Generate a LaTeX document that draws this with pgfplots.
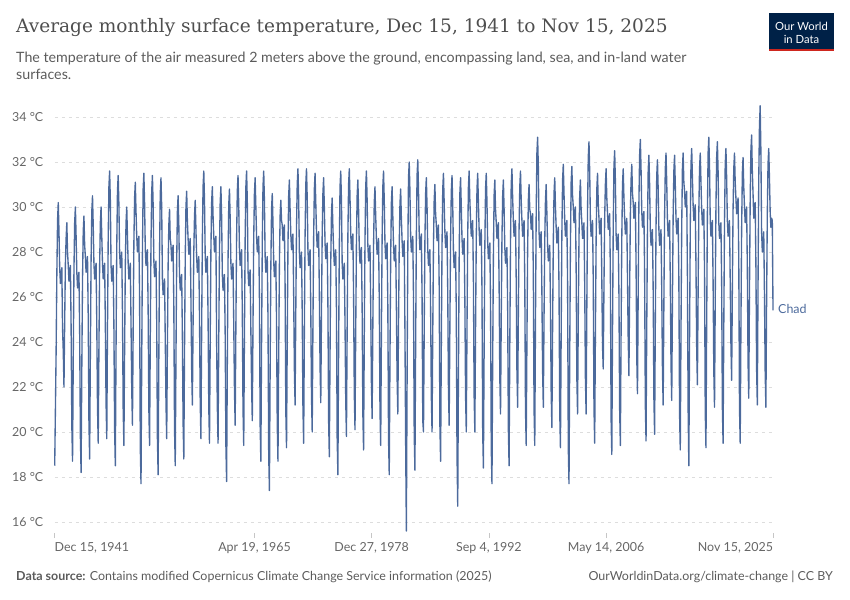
\documentclass[border=0pt]{standalone}
\usepackage{fontspec}
\setmainfont{Lato}
\newfontfamily\titlefont{DejaVu Serif}
\usepackage{pgfplots}
\usepackage{pgfplotstable}
\pgfplotsset{compat=1.18}

\definecolor{owidblue}{HTML}{4C6A9C}
\definecolor{titlegray}{HTML}{4E4E4E}
\definecolor{subgray}{HTML}{5B5B5B}
\definecolor{tickgray}{HTML}{666666}
\definecolor{gridgray}{HTML}{DDDDDD}
\definecolor{owidnavy}{HTML}{002147}
\definecolor{owidred}{HTML}{CE261E}

% Chad, monthly mean surface temperature (deg C), Dec 1941 ... Nov 2025
% one line per calendar year, Jan..Dec
\pgfplotstableread[header=false,row sep=\\]{
18.5\\
21.0\\ 23.6\\ 27.0\\ 29.4\\ 30.2\\ 28.9\\ 27.3\\ 26.6\\ 27.0\\ 27.3\\ 24.6\\ 23.6\\
22.0\\ 24.9\\ 27.5\\ 28.6\\ 29.3\\ 28.0\\ 27.4\\ 26.7\\ 27.1\\ 27.4\\ 24.7\\ 20.3\\
18.7\\ 23.2\\ 27.2\\ 29.3\\ 30.0\\ 28.7\\ 27.1\\ 26.4\\ 26.8\\ 27.1\\ 24.4\\ 19.8\\
18.2\\ 22.8\\ 26.8\\ 28.9\\ 29.6\\ 28.3\\ 27.8\\ 27.1\\ 27.5\\ 27.8\\ 25.1\\ 20.4\\
18.8\\ 23.5\\ 27.6\\ 29.8\\ 30.5\\ 29.2\\ 27.5\\ 26.8\\ 27.2\\ 27.5\\ 24.8\\ 21.1\\
19.5\\ 23.7\\ 27.4\\ 29.3\\ 30.0\\ 28.7\\ 27.5\\ 26.8\\ 27.2\\ 27.5\\ 24.8\\ 21.3\\
19.7\\ 24.5\\ 28.6\\ 30.9\\ 31.6\\ 30.3\\ 27.4\\ 26.7\\ 27.1\\ 27.4\\ 24.7\\ 20.1\\
18.5\\ 23.7\\ 28.2\\ 30.7\\ 31.4\\ 30.1\\ 28.0\\ 27.3\\ 27.7\\ 28.0\\ 25.3\\ 21.0\\
19.4\\ 23.6\\ 27.4\\ 29.3\\ 30.0\\ 28.7\\ 27.5\\ 26.8\\ 27.2\\ 27.5\\ 24.8\\ 21.9\\
20.3\\ 24.6\\ 28.4\\ 30.4\\ 31.1\\ 29.8\\ 28.7\\ 28.0\\ 28.4\\ 28.7\\ 26.0\\ 19.3\\
17.7\\ 23.2\\ 28.1\\ 30.8\\ 31.5\\ 30.2\\ 28.1\\ 27.4\\ 27.8\\ 28.1\\ 25.4\\ 21.0\\
19.4\\ 24.2\\ 28.4\\ 30.7\\ 31.4\\ 30.1\\ 27.6\\ 26.9\\ 27.3\\ 27.6\\ 24.9\\ 19.7\\
18.1\\ 23.4\\ 28.0\\ 30.6\\ 31.3\\ 30.0\\ 26.8\\ 26.1\\ 26.5\\ 26.8\\ 24.1\\ 21.3\\
19.7\\ 23.8\\ 27.4\\ 29.2\\ 29.9\\ 28.6\\ 28.3\\ 27.6\\ 28.0\\ 28.3\\ 25.6\\ 20.1\\
18.5\\ 23.3\\ 27.5\\ 29.8\\ 30.5\\ 29.2\\ 27.0\\ 26.3\\ 26.7\\ 27.0\\ 24.3\\ 20.4\\
18.8\\ 23.6\\ 27.7\\ 30.0\\ 30.7\\ 29.4\\ 28.6\\ 27.9\\ 28.3\\ 28.6\\ 25.9\\ 22.8\\
21.2\\ 24.8\\ 28.0\\ 29.6\\ 30.3\\ 29.0\\ 27.8\\ 27.1\\ 27.5\\ 27.8\\ 25.1\\ 21.3\\
19.7\\ 24.5\\ 28.6\\ 30.9\\ 31.6\\ 30.3\\ 27.8\\ 27.1\\ 27.5\\ 27.8\\ 25.1\\ 21.1\\
19.5\\ 24.1\\ 28.1\\ 30.2\\ 30.9\\ 29.6\\ 28.7\\ 28.0\\ 28.4\\ 28.7\\ 24.0\\ 21.1\\
19.5\\ 24.1\\ 28.1\\ 30.2\\ 30.9\\ 29.6\\ 27.0\\ 26.3\\ 26.7\\ 27.0\\ 24.3\\ 19.4\\
17.8\\ 23.0\\ 27.6\\ 30.1\\ 30.8\\ 29.5\\ 27.5\\ 26.8\\ 27.2\\ 27.5\\ 24.8\\ 21.9\\
20.3\\ 24.7\\ 28.6\\ 30.7\\ 31.4\\ 30.1\\ 28.1\\ 27.4\\ 27.8\\ 28.1\\ 25.4\\ 21.0\\
19.4\\ 24.3\\ 28.6\\ 30.9\\ 31.6\\ 30.3\\ 27.2\\ 26.5\\ 26.9\\ 27.2\\ 24.5\\ 22.1\\
20.5\\ 24.8\\ 28.6\\ 30.6\\ 31.3\\ 30.0\\ 28.7\\ 28.0\\ 28.4\\ 28.7\\ 26.0\\ 20.3\\
18.7\\ 23.9\\ 28.4\\ 30.9\\ 31.6\\ 30.3\\ 27.8\\ 27.1\\ 27.5\\ 27.8\\ 25.1\\ 19.0\\
17.4\\ 22.7\\ 27.3\\ 29.9\\ 30.6\\ 29.3\\ 27.6\\ 26.9\\ 27.3\\ 27.6\\ 24.9\\ 20.3\\
18.7\\ 23.3\\ 27.4\\ 29.6\\ 30.3\\ 29.4\\ 29.2\\ 28.5\\ 28.9\\ 29.2\\ 26.5\\ 20.9\\
19.3\\ 24.1\\ 28.2\\ 30.5\\ 31.2\\ 29.9\\ 28.8\\ 28.1\\ 28.5\\ 28.8\\ 26.1\\ 22.8\\
21.2\\ 25.4\\ 29.1\\ 31.0\\ 31.7\\ 30.4\\ 28.0\\ 27.3\\ 27.7\\ 28.0\\ 25.3\\ 21.1\\
19.5\\ 24.4\\ 28.7\\ 31.0\\ 31.7\\ 30.4\\ 28.1\\ 27.4\\ 27.8\\ 28.1\\ 25.4\\ 21.6\\
20.0\\ 24.6\\ 28.6\\ 30.8\\ 31.5\\ 30.2\\ 28.9\\ 28.2\\ 28.6\\ 28.9\\ 26.2\\ 22.9\\
21.3\\ 25.3\\ 28.8\\ 30.6\\ 31.3\\ 30.0\\ 28.4\\ 27.7\\ 28.1\\ 28.4\\ 25.7\\ 20.5\\
18.9\\ 23.5\\ 27.5\\ 29.7\\ 30.4\\ 29.1\\ 28.1\\ 27.4\\ 27.8\\ 28.1\\ 25.4\\ 19.7\\
18.1\\ 23.5\\ 28.2\\ 30.9\\ 31.6\\ 30.3\\ 27.5\\ 26.8\\ 27.2\\ 27.5\\ 24.8\\ 21.4\\
19.8\\ 24.6\\ 28.7\\ 31.0\\ 31.7\\ 30.4\\ 28.8\\ 28.1\\ 28.5\\ 28.8\\ 26.1\\ 21.7\\
20.1\\ 24.5\\ 28.4\\ 30.5\\ 31.2\\ 29.9\\ 28.2\\ 27.5\\ 27.9\\ 28.2\\ 25.5\\ 20.8\\
19.2\\ 24.2\\ 28.5\\ 30.9\\ 31.6\\ 30.3\\ 28.3\\ 27.6\\ 28.0\\ 28.3\\ 25.6\\ 22.2\\
20.6\\ 24.7\\ 28.3\\ 30.2\\ 30.9\\ 29.6\\ 28.6\\ 27.9\\ 28.3\\ 28.6\\ 25.9\\ 21.0\\
19.4\\ 24.3\\ 28.6\\ 30.9\\ 31.6\\ 30.3\\ 28.4\\ 27.7\\ 28.1\\ 28.4\\ 25.7\\ 19.7\\
18.1\\ 23.2\\ 27.7\\ 30.2\\ 30.9\\ 29.6\\ 28.3\\ 27.6\\ 28.0\\ 28.3\\ 25.6\\ 22.4\\
20.8\\ 24.8\\ 28.3\\ 30.1\\ 30.8\\ 29.5\\ 28.5\\ 27.8\\ 28.2\\ 28.5\\ 24.5\\ 19.5\\
15.6\\ 22.2\\ 27.9\\ 31.3\\ 32.0\\ 30.7\\ 28.7\\ 28.0\\ 28.4\\ 28.7\\ 26.0\\ 19.9\\
18.3\\ 23.8\\ 28.7\\ 31.4\\ 32.1\\ 30.8\\ 28.8\\ 28.1\\ 28.5\\ 28.8\\ 26.1\\ 20.5\\
20.0\\ 24.5\\ 28.5\\ 30.6\\ 31.3\\ 30.0\\ 28.1\\ 27.4\\ 27.8\\ 28.1\\ 25.4\\ 21.6\\
20.0\\ 24.4\\ 28.3\\ 30.3\\ 31.0\\ 29.7\\ 29.2\\ 28.5\\ 28.9\\ 29.2\\ 26.5\\ 20.3\\
18.7\\ 23.8\\ 28.3\\ 30.8\\ 31.5\\ 30.2\\ 28.9\\ 28.2\\ 28.6\\ 28.9\\ 26.2\\ 21.9\\
20.3\\ 24.7\\ 28.6\\ 30.7\\ 31.4\\ 30.1\\ 28.0\\ 27.3\\ 27.7\\ 28.0\\ 25.3\\ 19.0\\
16.7\\ 22.5\\ 27.7\\ 30.6\\ 31.3\\ 30.0\\ 28.6\\ 27.9\\ 28.3\\ 28.6\\ 25.9\\ 21.6\\
20.0\\ 24.6\\ 28.7\\ 30.9\\ 31.6\\ 30.3\\ 29.4\\ 28.7\\ 29.1\\ 29.4\\ 26.7\\ 21.6\\
20.0\\ 24.6\\ 28.6\\ 30.8\\ 31.5\\ 30.2\\ 29.0\\ 28.3\\ 28.7\\ 29.0\\ 26.3\\ 20.0\\
18.4\\ 23.6\\ 28.2\\ 30.8\\ 31.5\\ 30.2\\ 28.4\\ 27.7\\ 28.1\\ 28.4\\ 25.7\\ 19.3\\
17.7\\ 23.1\\ 27.8\\ 30.5\\ 31.2\\ 29.9\\ 29.3\\ 28.6\\ 29.0\\ 29.3\\ 26.6\\ 22.4\\
20.8\\ 25.0\\ 28.6\\ 30.5\\ 31.2\\ 29.9\\ 28.2\\ 27.5\\ 27.9\\ 28.2\\ 25.5\\ 20.1\\
18.5\\ 23.8\\ 28.4\\ 31.0\\ 31.7\\ 30.4\\ 29.4\\ 28.7\\ 29.1\\ 29.4\\ 26.7\\ 22.7\\
21.1\\ 25.3\\ 29.0\\ 30.9\\ 31.6\\ 30.3\\ 29.4\\ 28.7\\ 29.1\\ 29.4\\ 26.7\\ 21.0\\
19.4\\ 24.0\\ 28.1\\ 30.3\\ 31.0\\ 29.9\\ 29.7\\ 29.0\\ 29.4\\ 29.7\\ 27.0\\ 21.0\\
19.4\\ 24.9\\ 29.7\\ 32.4\\ 33.1\\ 31.8\\ 28.9\\ 28.2\\ 28.6\\ 28.9\\ 26.2\\ 22.7\\
21.1\\ 25.1\\ 28.5\\ 30.3\\ 31.0\\ 29.7\\ 28.3\\ 27.6\\ 28.0\\ 28.3\\ 25.6\\ 21.8\\
20.2\\ 24.6\\ 28.5\\ 30.6\\ 31.3\\ 30.0\\ 29.1\\ 28.4\\ 28.8\\ 29.1\\ 26.4\\ 20.9\\
19.3\\ 24.3\\ 28.8\\ 31.2\\ 31.9\\ 30.6\\ 29.4\\ 28.7\\ 29.1\\ 29.4\\ 26.7\\ 19.3\\
17.7\\ 23.3\\ 28.3\\ 31.1\\ 31.8\\ 30.5\\ 30.0\\ 29.3\\ 29.7\\ 30.0\\ 27.3\\ 22.4\\
20.8\\ 25.0\\ 28.6\\ 30.5\\ 31.2\\ 29.9\\ 29.3\\ 28.6\\ 29.0\\ 29.3\\ 26.6\\ 22.4\\
20.8\\ 25.6\\ 29.9\\ 32.2\\ 32.9\\ 31.6\\ 29.4\\ 28.7\\ 29.1\\ 29.4\\ 26.7\\ 21.1\\
19.5\\ 24.3\\ 28.5\\ 30.8\\ 31.5\\ 30.2\\ 29.5\\ 28.8\\ 29.2\\ 29.5\\ 26.8\\ 23.8\\
22.8\\ 26.4\\ 29.5\\ 31.0\\ 31.7\\ 30.4\\ 29.7\\ 29.0\\ 29.4\\ 29.7\\ 27.0\\ 20.6\\
19.0\\ 24.4\\ 29.1\\ 31.8\\ 32.5\\ 31.2\\ 28.8\\ 28.1\\ 28.5\\ 28.8\\ 26.1\\ 21.0\\
19.4\\ 24.3\\ 28.6\\ 31.0\\ 31.7\\ 30.4\\ 29.5\\ 28.8\\ 29.2\\ 29.5\\ 26.8\\ 24.1\\
22.5\\ 26.3\\ 29.6\\ 31.2\\ 31.9\\ 30.6\\ 30.2\\ 29.5\\ 29.9\\ 30.2\\ 27.5\\ 23.3\\
21.7\\ 26.2\\ 30.2\\ 32.3\\ 33.0\\ 31.7\\ 29.8\\ 29.1\\ 29.5\\ 29.8\\ 27.1\\ 21.2\\
19.6\\ 24.7\\ 29.1\\ 31.6\\ 32.3\\ 31.0\\ 29.0\\ 28.3\\ 28.7\\ 29.0\\ 26.3\\ 21.5\\
19.9\\ 24.8\\ 29.1\\ 31.4\\ 32.1\\ 30.8\\ 29.0\\ 28.3\\ 28.7\\ 29.0\\ 26.3\\ 22.8\\
21.2\\ 25.7\\ 29.6\\ 31.7\\ 32.4\\ 31.1\\ 29.4\\ 28.7\\ 29.1\\ 29.4\\ 26.7\\ 23.0\\
21.4\\ 25.8\\ 29.6\\ 31.6\\ 32.3\\ 31.0\\ 29.5\\ 28.8\\ 29.2\\ 29.5\\ 26.8\\ 20.8\\
19.2\\ 24.5\\ 29.1\\ 31.7\\ 32.4\\ 31.1\\ 30.7\\ 30.0\\ 30.4\\ 30.7\\ 27.0\\ 21.0\\
18.5\\ 24.1\\ 29.1\\ 31.9\\ 32.6\\ 31.3\\ 30.1\\ 29.4\\ 29.8\\ 30.1\\ 27.4\\ 23.7\\
22.1\\ 26.2\\ 29.8\\ 31.7\\ 32.4\\ 31.1\\ 29.9\\ 29.2\\ 29.6\\ 29.9\\ 27.2\\ 20.9\\
19.3\\ 24.8\\ 29.7\\ 32.4\\ 33.1\\ 31.8\\ 29.4\\ 28.7\\ 29.1\\ 29.4\\ 26.7\\ 22.7\\
21.1\\ 25.8\\ 30.0\\ 32.2\\ 32.9\\ 31.6\\ 29.3\\ 28.6\\ 29.0\\ 29.3\\ 26.6\\ 21.1\\
19.5\\ 24.7\\ 29.3\\ 31.9\\ 32.6\\ 31.3\\ 29.4\\ 28.7\\ 29.1\\ 29.4\\ 26.7\\ 23.9\\
22.3\\ 26.3\\ 29.9\\ 31.7\\ 32.4\\ 31.1\\ 30.4\\ 29.7\\ 30.1\\ 30.4\\ 27.7\\ 21.1\\
19.5\\ 24.6\\ 29.0\\ 31.5\\ 32.2\\ 30.9\\ 30.0\\ 29.3\\ 29.7\\ 30.0\\ 27.3\\ 23.1\\
21.5\\ 26.2\\ 30.3\\ 32.5\\ 33.2\\ 31.6\\ 30.6\\ 29.5\\ 29.9\\ 30.2\\ 27.5\\ 22.8\\
21.2\\ 26.5\\ 31.2\\ 33.6\\ 34.5\\ 32.5\\ 28.9\\ 28.0\\ 28.4\\ 28.9\\ 26.2\\ 22.7\\
21.1\\ 25.7\\ 29.7\\ 31.9\\ 32.6\\ 31.3\\ 29.8\\ 29.1\\ 29.5\\ 29.4\\ 25.4\\
}\chad

\begin{document}
\begin{tikzpicture}[x=1bp,y=1bp]
\path[use as bounding box] (0,0) rectangle (850,600);

% title block
\node[anchor=base west, inner sep=0, text=titlegray] at (16,567)
  {\fontsize{18.6}{22}\selectfont\titlefont Average monthly surface temperature, Dec 15, 1941 to Nov 15, 2025};
\node[anchor=base west, inner sep=0, text=subgray] at (16,537)
  {\fontsize{14.3}{17}\selectfont The temperature of the air measured 2 meters above the ground, encompassing land, sea, and in-land water};
\node[anchor=base west, inner sep=0, text=subgray] at (16,520)
  {\fontsize{14.3}{17}\selectfont surfaces.};

% logo
\fill[owidnavy] (769,551) rectangle (834,587);
\fill[owidred] (769,548.5) rectangle (834,551);
\node[text=white, inner sep=0] at (801.5,574)
  {\fontsize{11.3}{13}\selectfont Our World};
\node[text=white, inner sep=0] at (801.5,561)
  {\fontsize{11.3}{13}\selectfont in Data};

\begin{axis}[
    at={(54.7bp,66.75bp)},
    anchor=south west,
    scale only axis,
    width=718.3bp,
    height=429.75bp,
    xmin=0, xmax=1007,
    ymin=15.5, ymax=34.6,
    clip=false,
    axis line style={draw=none},
    ytick={16,18,...,34},
    yticklabel={\pgfmathprintnumber{\tick} °C},
    /pgf/number format/assume math mode=true,
    ytick style={draw=none},
    yticklabel style={anchor=west, inner sep=0, xshift=-37.7bp,
      font=\fontsize{12.5}{14}\selectfont, text=tickgray},
    ymajorgrids,
    major grid style={gridgray, line width=0.8bp, dash pattern=on 3.5bp off 3.5bp},
    xtick={0,280.1,444.4,608.7,773.0,1007},
    xticklabels={{\makebox[0pt][l]{Dec 15, 1941}},{Apr 19, 1965},{Dec 27, 1978},
      {Sep 4, 1992},{May 14, 2006},{\makebox[0pt][r]{Nov 15, 2025}}},
    xtick pos=left,
    tick align=outside,
    major tick length=5bp,
    xtick style={gray!45, line width=0.7bp},
    xticklabel style={anchor=north, inner sep=0, yshift=-4bp,
      font=\fontsize{12.5}{14}\selectfont, text=tickgray},
]
  \addplot[owidblue, line width=1.35bp, line join=round, no marks]
    table[x expr=\coordindex, y index=0] {\chad};
  \node[anchor=west, inner sep=0, text=owidblue,
    font=\fontsize{12.5}{14}\selectfont] at (axis cs:1007,25.45) [xshift=5bp] {Chad};
\end{axis}

% footer
\node[anchor=base west, inner sep=0, text=subgray] at (16,19)
  {\fontsize{12.5}{14}\selectfont\textbf{Data source:} Contains modified Copernicus Climate Change Service information (2025)};
\node[anchor=base east, inner sep=0, text=subgray] at (833,19)
  {\fontsize{12.5}{14}\selectfont OurWorldinData.org/climate-change | CC BY};
\end{tikzpicture}
\end{document}
